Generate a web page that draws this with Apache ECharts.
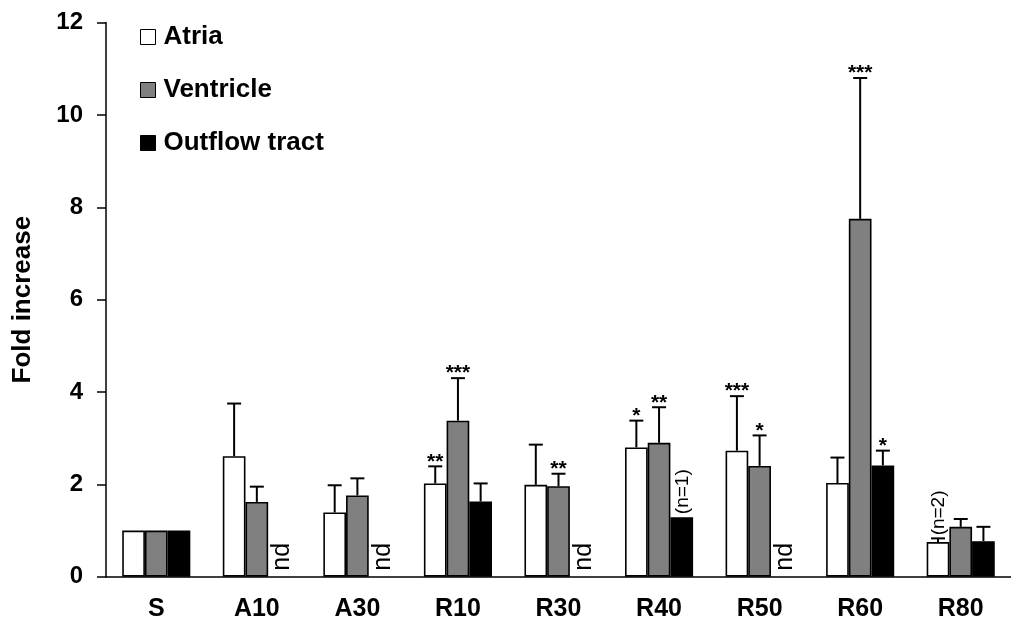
<!DOCTYPE html>
<html><head><meta charset="utf-8">
<script src="https://cdn.jsdelivr.net/npm/echarts@6/dist/echarts.min.js"></script>
<style>html,body{margin:0;padding:0;background:#fff}#c{width:1011px;height:629px}</style>
</head><body><div id="c"></div>
<script>
const categories = ['S','A10','A30','R10','R30','R40','R50','R60','R80'];
const yTicks = [0, 2, 4, 6, 8, 10, 12];
// bar heights
const atria     = [1.00, 2.61, 1.39, 2.02, 1.99, 2.80, 2.73, 2.03, 0.75];
const ventricle = [1.00, 1.62, 1.76, 3.38, 1.96, 2.90, 2.40, 7.75, 1.08];
const outflow   = [1.00, null, null, 1.63, null, 1.29, null, 2.41, 0.77];
// upper ends of error bars
const atriaTop     = [null, 3.75, 1.98, 2.39, 2.86, 3.38, 3.91, 2.58, 0.83];
const ventricleTop = [null, 1.95, 2.13, 4.30, 2.23, 3.67, 3.06, 10.80, 1.25];
const outflowTop   = [null, null, null, 2.02, null, null, null, 2.73, 1.08];
// significance marks
const atriaStars     = ['', '', '', '**', '', '*', '***', '', ''];
const ventricleStars = ['', '', '', '***', '**', '**', '*', '***', ''];
const outflowStars   = ['', '', '', '', '', '', '', '*', ''];
// notes
const atriaNotes     = ['', '', '', '', '', '', '', '', '(n=2)'];
const ventricleNotes = ['', '', '', '', '', '', '', '', ''];
const outflowNotes   = ['', 'nd', 'nd', '', 'nd', '(n=1)', 'nd', '', ''];

const FONT = "'Liberation Sans', Arial, sans-serif";
const BW = 22.7;
const names = ['Atria', 'Ventricle', 'Outflow tract'];
const colors = ['#ffffff', '#808080', '#000000'];
const vals = [atria, ventricle, outflow];
const tops = [atriaTop, ventricleTop, outflowTop];
const stars = [atriaStars, ventricleStars, outflowStars];
const notes = [atriaNotes, ventricleNotes, outflowNotes];
const offsets = [-BW, 0, BW];

const series = [];
names.forEach((n, k) => {
  series.push({
    name: n, type: 'bar', barWidth: BW, barGap: '0%',
    data: vals[k].map(v => v == null ? '-' : v),
    itemStyle: { color: colors[k], borderColor: '#000', borderWidth: 1.6 },
    z: 2
  });
});
names.forEach((n, k) => {
  const d = [];
  tops[k].forEach((t, i) => { if (t != null) d.push([i, vals[k][i], t]); });
  series.push({
    type: 'custom', name: n + ' err', z: 3, silent: true,
    data: d,
    renderItem: function (params, api) {
      const i = api.value(0);
      const p0 = api.coord([i, api.value(1)]);
      const p1 = api.coord([i, api.value(2)]);
      const x = p0[0] + offsets[k];
      const children = [
        { type: 'line', shape: { x1: x, y1: p0[1], x2: x, y2: p1[1] }, style: { stroke: '#000', lineWidth: 2 } },
        { type: 'line', shape: { x1: x - 7, y1: p1[1], x2: x + 7, y2: p1[1] }, style: { stroke: '#000', lineWidth: 2 } }
      ];
      const s = stars[k][i];
      if (s) {
        children.push({ type: 'text', x: x, y: p1[1] + 6, style: {
          text: s, fill: '#000', font: 'bold 21px ' + FONT, textAlign: 'center', textVerticalAlign: 'bottom' } });
      }
      return { type: 'group', children: children };
    }
  });
});
names.forEach((n, k) => {
  const d = [];
  notes[k].forEach((t, i) => {
    if (t) {
      const base = tops[k][i] != null ? tops[k][i] : (vals[k][i] != null ? vals[k][i] : 0);
      d.push([i, base]);
    }
  });
  series.push({
    type: 'custom', name: n + ' note', z: 4, silent: true,
    data: d,
    renderItem: function (params, api) {
      const i = api.value(0);
      const p = api.coord([i, api.value(1)]);
      const t = notes[k][i];
      const isNd = t === 'nd';
      return { type: 'text', x: p[0] + offsets[k] + (isNd ? 3 : 1), y: p[1] - (isNd ? 6 : 3), rotation: Math.PI / 2,
        style: { text: t, fill: '#000', font: (isNd ? '25px ' : '19px ') + FONT, textAlign: 'left', textVerticalAlign: 'middle' } };
    }
  });
});

const chart = echarts.init(document.getElementById('c'));
chart.setOption({
  animation: false,
  backgroundColor: '#fff',
  grid: { left: 106, top: 22.6, width: 914.5, height: 554.1 },
  legend: {
    data: names, orient: 'vertical', left: 140, top: 24, itemGap: 27, padding: 0,
    itemWidth: 15, itemHeight: 15, icon: 'rect',
    itemStyle: { borderColor: '#000', borderWidth: 1 },
    textStyle: { fontFamily: FONT, fontWeight: 'bold', fontSize: 26, color: '#000', lineHeight: 26, padding: [0, 0, 0, 3] }
  },
  xAxis: {
    type: 'category', data: categories,
    axisLine: { lineStyle: { color: '#000', width: 1.5 } },
    axisTick: { length: 8, lineStyle: { color: '#000', width: 1.5 } },
    axisLabel: { margin: 20, fontFamily: FONT, fontWeight: 'bold', fontSize: 25, color: '#000' }
  },
  yAxis: {
    type: 'value', min: yTicks[0], max: yTicks[yTicks.length - 1], interval: yTicks[1] - yTicks[0],
    name: 'Fold increase', nameLocation: 'middle', nameGap: 70,
    nameTextStyle: { fontFamily: FONT, fontWeight: 'bold', fontSize: 26, color: '#000' },
    axisLine: { show: true, lineStyle: { color: '#000', width: 1.5 } },
    axisTick: { show: true, length: 9, lineStyle: { color: '#000', width: 1.5 } },
    splitLine: { show: false },
    axisLabel: { margin: 23, fontFamily: FONT, fontWeight: 'bold', fontSize: 24, color: '#000' }
  },
  series: series
});
</script>
</body></html>
